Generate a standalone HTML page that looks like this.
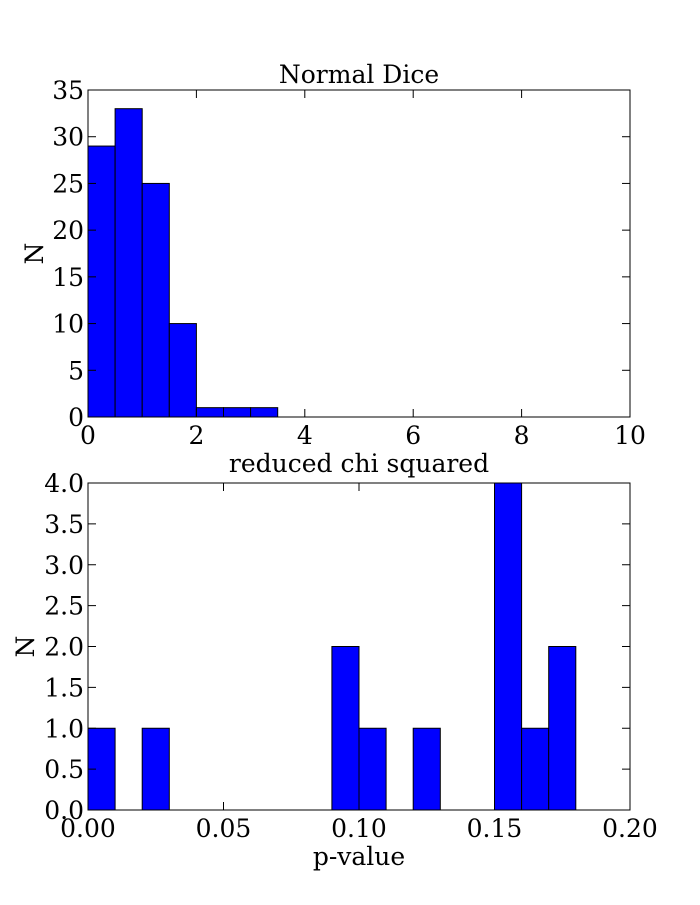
<!DOCTYPE html>
<html><head><meta charset="utf-8"><style>
body{margin:0;background:#fff}
svg text{font-family:"DejaVu Serif","Liberation Serif",serif;font-size:25px;fill:#000}
</style></head><body>
<svg id="chart" width="700" height="900" xmlns="http://www.w3.org/2000/svg"></svg>
<script>
const topCounts=[29,33,25,10,1,1,1,0,0,0,0,0,0,0,0,0,0,0,0,0];
const topBinWidth=0.5;
const topXTicks=[0,2,4,6,8,10];
const topYTicks=[0,5,10,15,20,25,30,35];
const botCounts=[1,0,1,0,0,0,0,0,0,2,1,0,1,0,0,4,1,2];
const botBinWidth=0.01;
const botXTicks=[0,0.05,0.10,0.15,0.20];
const botXLabels=["0.00","0.05","0.10","0.15","0.20"];
const botYTicks=[0,0.5,1,1.5,2,2.5,3,3.5,4];
const botYLabels=["0.0","0.5","1.0","1.5","2.0","2.5","3.0","3.5","4.0"];
const NS="http://www.w3.org/2000/svg";
const svg=document.getElementById('chart');
function mk(t,a,p){const e=document.createElementNS(NS,t);for(const k in a)e.setAttribute(k,a[k]);(p||svg).appendChild(e);return e;}
function panel(name,L,T,R,B,xmax,ymax,counts,bw,xt,xl,yt,yl,xlabel,title,ylx){
  const g=mk('g',{});
  
  
  const sx=v=>L+(R-L)*v/xmax, sy=v=>B-(B-T)*v/ymax;
  counts.forEach((c,i)=>{
    const x0=sx(i*bw),x1=sx((i+1)*bw);
    const r=mk('rect',{x:x0,y:sy(c),width:x1-x0,height:sy(0)-sy(c),fill:'#0000ff',stroke:'#000','stroke-width':1},g);
    
    
  });
  const f=mk('rect',{x:L,y:T,width:R-L,height:B-T,fill:'none',stroke:'#000','stroke-width':1},g);
  
  
  xt.forEach((v,i)=>{
    const x=sx(v);
    mk('line',{x1:x,x2:x,y1:B,y2:B-8,stroke:'#000'},g);
    mk('line',{x1:x,x2:x,y1:T,y2:T+8,stroke:'#000'},g);
    const t=mk('text',{x:x,y:B+27,'text-anchor':'middle'},g);t.textContent=xl[i];
    
    
  });
  yt.forEach((v,i)=>{
    const y=sy(v);
    mk('line',{x1:L,x2:L+8,y1:y,y2:y,stroke:'#000'},g);
    mk('line',{x1:R,x2:R-8,y1:y,y2:y,stroke:'#000'},g);
    const t=mk('text',{x:L-4,y:y+9,'text-anchor':'end'},g);t.textContent=yl[i];
    
    
  });
  const xlab=mk('text',{x:(L+R)/2,y:B+55,'text-anchor':'middle'},g);xlab.textContent=xlabel;
  
  
  const ylab=mk('text',{x:0,y:0,'text-anchor':'middle',transform:`translate(${ylx},${(T+B)/2}) rotate(-90)`},g);ylab.textContent='N';
  
  
  if(title){const tt=mk('text',{x:(L+R)/2,y:T-7,'text-anchor':'middle'},g);tt.textContent=title;
    
    }
}
panel('top-histogram',88,90,630,417,10,35,topCounts,topBinWidth,topXTicks,topXTicks.map(String),topYTicks,topYTicks.map(String),'reduced chi squared','Normal Dice',43);
panel('bottom-histogram',88,483,630,810,0.2,4,botCounts,botBinWidth,botXTicks,botXLabels,botYTicks,botYLabels,'p-value',null,34);
</script>
</body></html>
